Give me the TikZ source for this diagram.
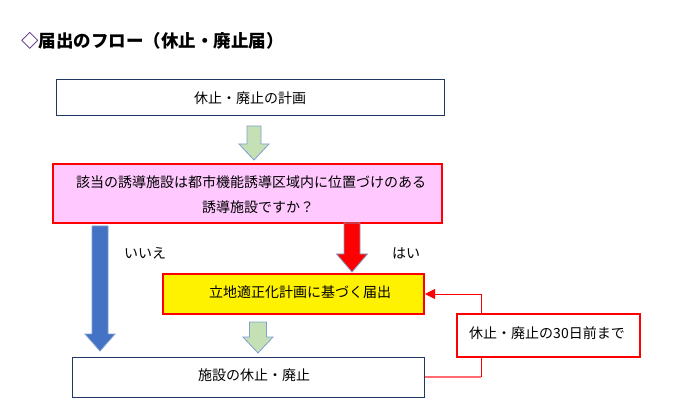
\documentclass[tikz,border=0pt]{standalone}
\usepackage{fontspec}
\newfontfamily\cjk{Noto Sans CJK JP}
\usetikzlibrary{arrows.meta}
\definecolor{navyb}{HTML}{1F3864}
\definecolor{pinkf}{HTML}{FFC9FF}
\definecolor{greenf}{HTML}{C5E0B4}
\definecolor{bluef}{HTML}{4472C4}
\definecolor{arrowedge}{HTML}{7F9FD3}
\definecolor{lineln}{HTML}{FF6A70}
\definecolor{diam}{HTML}{4B1F7B}
\newcommand\bdarrow[7]{% style, cx, ytop, ytip, shaft half, head half, head length
  \draw[#1] (#2-#5,#3) -- (#2+#5,#3) -- (#2+#5,#4-#7) -- (#2+#6,#4-#7) -- (#2,#4)
    -- (#2-#6,#4-#7) -- (#2-#5,#4-#7) -- cycle;}
\tikzset{
  txt/.style={font=\cjk\fontsize{14}{25}\selectfont, inner sep=0pt},
  navybox/.style={draw=navyb, line width=1pt, fill=white, minimum width=#1, minimum height=36pt, inner sep=0pt},
  redbox/.style={draw=red, line width=2pt, inner sep=0pt},
  greenarrow/.style={fill=greenf, draw=arrowedge, line width=0.8pt},
  bluearrow/.style={fill=bluef, draw=arrowedge, line width=0.8pt},
  redarrow/.style={fill=red, draw=arrowedge, line width=0.8pt},
}
\begin{document}
\begin{tikzpicture}[x=1pt, y=-1pt]
\useasboundingbox (0,0) rectangle (679,419);
\node[anchor=west, inner sep=0pt, font=\cjk\fontsize{17.5}{20}\selectfont\bfseries] (title) at (21,41)
  {\textcolor{diam}{◇}届出のフロー（休止・廃止届）};

\node[navybox=388pt, minimum height=36pt] (plan) at (250,98) {};
\node[txt] (plant) at (250,98) {休止・廃止の計画};

\node[redbox, fill=pinkf, minimum width=389pt, minimum height=59pt] (q) at (247.5,193.5) {};
\node[txt] (q1) at (251,182) {該当の誘導施設は都市機能誘導区域内に位置づけのある};
\node[txt] (q2) at (258,207) {誘導施設ですか？};

\node[redbox, fill=yellow, minimum width=261pt, minimum height=40pt] (todoke) at (293.5,294) {};
\node[txt] (todoket) at (300,292) {立地適正化計画に基づく届出};

\node[navybox=352pt, minimum height=40pt] (stop) at (248,377) {};
\node[txt] (stopt) at (254,375) {施設の休止・廃止};

\node[txt] (no) at (145,253) {いいえ};
\node[txt] (yes) at (406,253) {はい};

\bdarrow{greenarrow}{254}{126}{160}{7}{15}{16}
\bdarrow{bluearrow}{100}{226}{351}{8}{15}{17}
\bdarrow{redarrow}{352}{223}{272}{8}{15.5}{18}
\bdarrow{greenarrow}{258}{322}{353}{8.5}{15}{16}

\coordinate (c1) at (481,377);
\draw[lineln, line width=1.2pt] (stop.east) -- (c1);
\draw[red, line width=1pt, -{Triangle[length=10pt,width=10pt]}] (c1) |- (todoke.east);

\node[redbox, fill=white, minimum width=183pt, minimum height=43pt] (lbl) at (548.5,335.5) {};
\node[txt] (lblt) at (547,333) {休止・廃止の30日前まで};
\end{tikzpicture}
\end{document}
